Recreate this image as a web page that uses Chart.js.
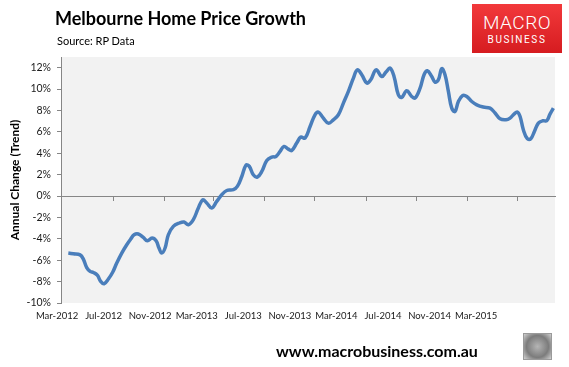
<!DOCTYPE html>
<html>
<head>
<meta charset="utf-8">
<script src="https://cdn.jsdelivr.net/npm/chart.js@4.4.1/dist/chart.umd.min.js"></script>
<style>
  body { margin: 0; background: #fff; }
  #wrap { position: relative; width: 569px; height: 367px; overflow: hidden; font-family: Lato, "Open Sans", sans-serif; }
  #chart { position: absolute; left: 0; top: 0; }
  #title { position: absolute; left: 55px; top: 7px; font-size: 18px; font-weight: bold; color: #000; white-space: nowrap; }
  #source { position: absolute; left: 57px; top: 34px; font-size: 11px; color: #000; }
  #logo { position: absolute; left: 472px; top: 4px; width: 90px; height: 49px;
          background: linear-gradient(#f2393b, #d61c20); color: #fff; text-align: center; }
  #logo .big { font-family: Roboto, sans-serif; font-weight: 300; font-size: 19px; line-height: 18px; margin-top: 10px; letter-spacing: 0.5px; }
  #logo .small { font-family: Roboto, sans-serif; font-size: 10px; line-height: 12px; letter-spacing: 1.6px; margin-top: 2px; }
  #footer { position: absolute; left: 276px; top: 341px; font-size: 16px; font-weight: bold; color: #000; white-space: nowrap; }
  #wolf { position: absolute; left: 523px; top: 333px; width: 27px; height: 25px; border: 1px solid #9a9a9a;
          background: radial-gradient(circle at 50% 50%, #b5b5b5, #7c7c7c 60%, #d0d0d0); }
</style>
</head>
<body>
<div id="wrap">
  <canvas id="chart" width="569" height="367"></canvas>
  <div id="title">Melbourne Home Price Growth</div>
  <div id="source">Source: RP Data</div>
  <div id="logo"><div class="big">MACRO</div><div class="small">BUSINESS</div></div>
  <div id="footer">www.macrobusiness.com.au</div>
  <div id="wolf"></div>
</div>
<script>
// months after Mar-2012 (decimal) and annual change in %
const months = [0.97, 1.40, 1.98, 2.26, 2.55, 2.84, 3.12, 3.46, 3.75, 4.04, 4.41, 4.79, 5.13, 5.56, 5.99, 6.33, 6.62, 6.98,
  7.41, 7.76, 8.16, 8.51, 8.76, 8.99, 9.28, 9.56, 9.99, 10.51, 10.91, 11.28, 11.71, 12.14, 12.52, 12.86, 13.29, 13.72,
  14.15, 14.58, 15.15, 15.49, 15.87, 16.24, 16.52, 16.86, 17.21, 17.59, 18.02, 18.45, 18.81, 19.16, 19.50, 19.87, 20.16,
  20.59, 20.94, 21.31, 21.74, 22.16, 22.45, 22.83, 23.31, 23.74, 24.17, 24.60, 25.03, 25.46, 25.80, 26.18, 26.61, 26.95,
  27.41, 27.90, 28.26, 28.61, 28.95, 29.32, 29.61, 30.04, 30.47, 30.76, 31.19, 31.53, 31.81, 32.19, 32.47, 32.76, 33.05,
  33.33, 33.62, 33.91, 34.19, 34.48, 34.85, 35.20, 35.63, 36.06, 36.62, 37.20, 37.63, 38.06, 38.57, 38.92, 39.26, 39.55,
  39.78, 40.06, 40.40, 40.70, 41.01, 41.35, 41.73, 42.07, 42.35, 42.64];
const growth = [-5.33, -5.4, -5.5, -5.9, -6.7, -7.05, -7.15, -7.4, -7.98, -8.2, -7.76, -7.1, -6.26, -5.33, -4.55, -4.02, -3.62, -3.55,
  -3.87, -4.18, -3.93, -4.18, -4.86, -5.33, -4.86, -3.62, -2.84, -2.52, -2.43, -2.68, -2.2, -1.12, -0.35, -0.65, -1.12, -0.5,
  0.12, 0.52, 0.59, 0.9, 1.83, 2.9, 2.77, 1.99, 1.78, 2.3, 3.33, 3.64, 3.7, 4.17, 4.64, 4.39, 4.26,
  4.95, 5.51, 5.42, 6.5, 7.6, 7.85, 7.35, 6.82, 7.13, 7.6, 8.69, 9.78, 11.03, 11.8, 11.34, 10.56, 10.87,
  11.8, 11.18, 11.59, 11.96, 11.18, 9.47, 9.22, 9.84, 9.31, 9.16, 10.09, 11.34, 11.71, 11.18, 10.65, 10.87, 11.9,
  11.34, 9.78, 8.22, 7.91, 8.84, 9.4, 9.31, 8.84, 8.53, 8.32, 8.22, 7.76, 7.22, 7.13, 7.29, 7.66, 7.85,
  7.44, 6.2, 5.36, 5.36, 6.04, 6.82, 7.04, 7.04, 7.66, 8.22];

const tickMonths = [0, 4, 8, 12, 16, 20, 24, 28, 32, 36];
const tickLabels = ['Mar-2012', 'Jul-2012', 'Nov-2012', 'Mar-2013', 'Jul-2013', 'Nov-2013', 'Mar-2014', 'Jul-2014', 'Nov-2014', 'Mar-2015'];
const markMonths = [4.81, 9.19, 13.40, 17.78, 22.16, 26.55, 30.84, 35.22, 39.52];
const yTicks = [-10, -8, -6, -4, -2, 0, 2, 4, 6, 8, 10, 12];

const xMin = 0.34, xMax = 42.78;
const axisGrey = '#868686';

const plotBg = {
  id: 'plotBg',
  beforeDraw(chart) {
    const a = chart.chartArea, ctx = chart.ctx;
    ctx.save();
    ctx.fillStyle = '#f2f2f2';
    ctx.fillRect(a.left, a.top, a.right - a.left, a.bottom - a.top);
    ctx.restore();
  }
};

const points = months.map(function(m, i){ return {x: m, y: growth[i]}; });

new Chart(document.getElementById('chart'), {
  type: 'line',
  data: {
    datasets: [{
      data: points,
      borderColor: '#4a7ebb',
      borderWidth: 3.5,
      pointRadius: 0,
      tension: 0.4,
      fill: false
    }]
  },
  options: {
    responsive: false,
    animation: false,
    devicePixelRatio: 1,
    layout: { padding: { top: 57, right: 14, bottom: 0, left: 0 } },
    plugins: { legend: { display: false }, tooltip: { enabled: false } },
    scales: {
      x: {
        type: 'linear', position: 'bottom', min: xMin, max: xMax,
        afterBuildTicks: function(s){ s.ticks = tickMonths.map(function(m){ return {value: m + 0.5}; }); },
        afterFit: function(s){ s.height = 64; },
        grid: { display: false, drawTicks: false },
        border: { display: false },
        ticks: {
          autoSkip: false, maxRotation: 0, padding: 7, labelOffset: -5.8,
          color: '#1a1a1a', font: { family: 'Lato', size: 9.5 },
          callback: function(v){ return tickLabels[tickMonths.indexOf(Math.round(v - 0.5))]; }
        }
      },
      x2: {
        type: 'linear', axis: 'x', position: { y: 0 }, min: xMin, max: xMax,
        afterBuildTicks: function(s){ s.ticks = markMonths.map(function(m){ return {value: m}; }); },
        grid: { drawOnChartArea: false, drawTicks: true, tickLength: 4, color: axisGrey },
        border: { display: true, color: axisGrey, width: 1 },
        ticks: { display: false }
      },
      y: {
        min: -10, max: 13,
        afterBuildTicks: function(s){ s.ticks = yTicks.map(function(v){ return {value: v}; }); },
        afterFit: function(s){ s.width = 61; },
        grid: { drawOnChartArea: false, drawTicks: true, tickLength: 4, color: axisGrey },
        border: { display: true, color: axisGrey, width: 1 },
        ticks: {
          padding: 6, color: '#1a1a1a', font: { family: 'Lato', size: 10.5 },
          callback: function(v){ return v + '%'; }
        },
        title: {
          display: true, text: 'Annual Change (Trend)', color: '#000',
          font: { family: 'Lato', size: 12, weight: 'bold' },
          padding: { top: 8, bottom: 0 }
        }
      }
    }
  },
  plugins: [plotBg]
});
</script>
</body>
</html>
